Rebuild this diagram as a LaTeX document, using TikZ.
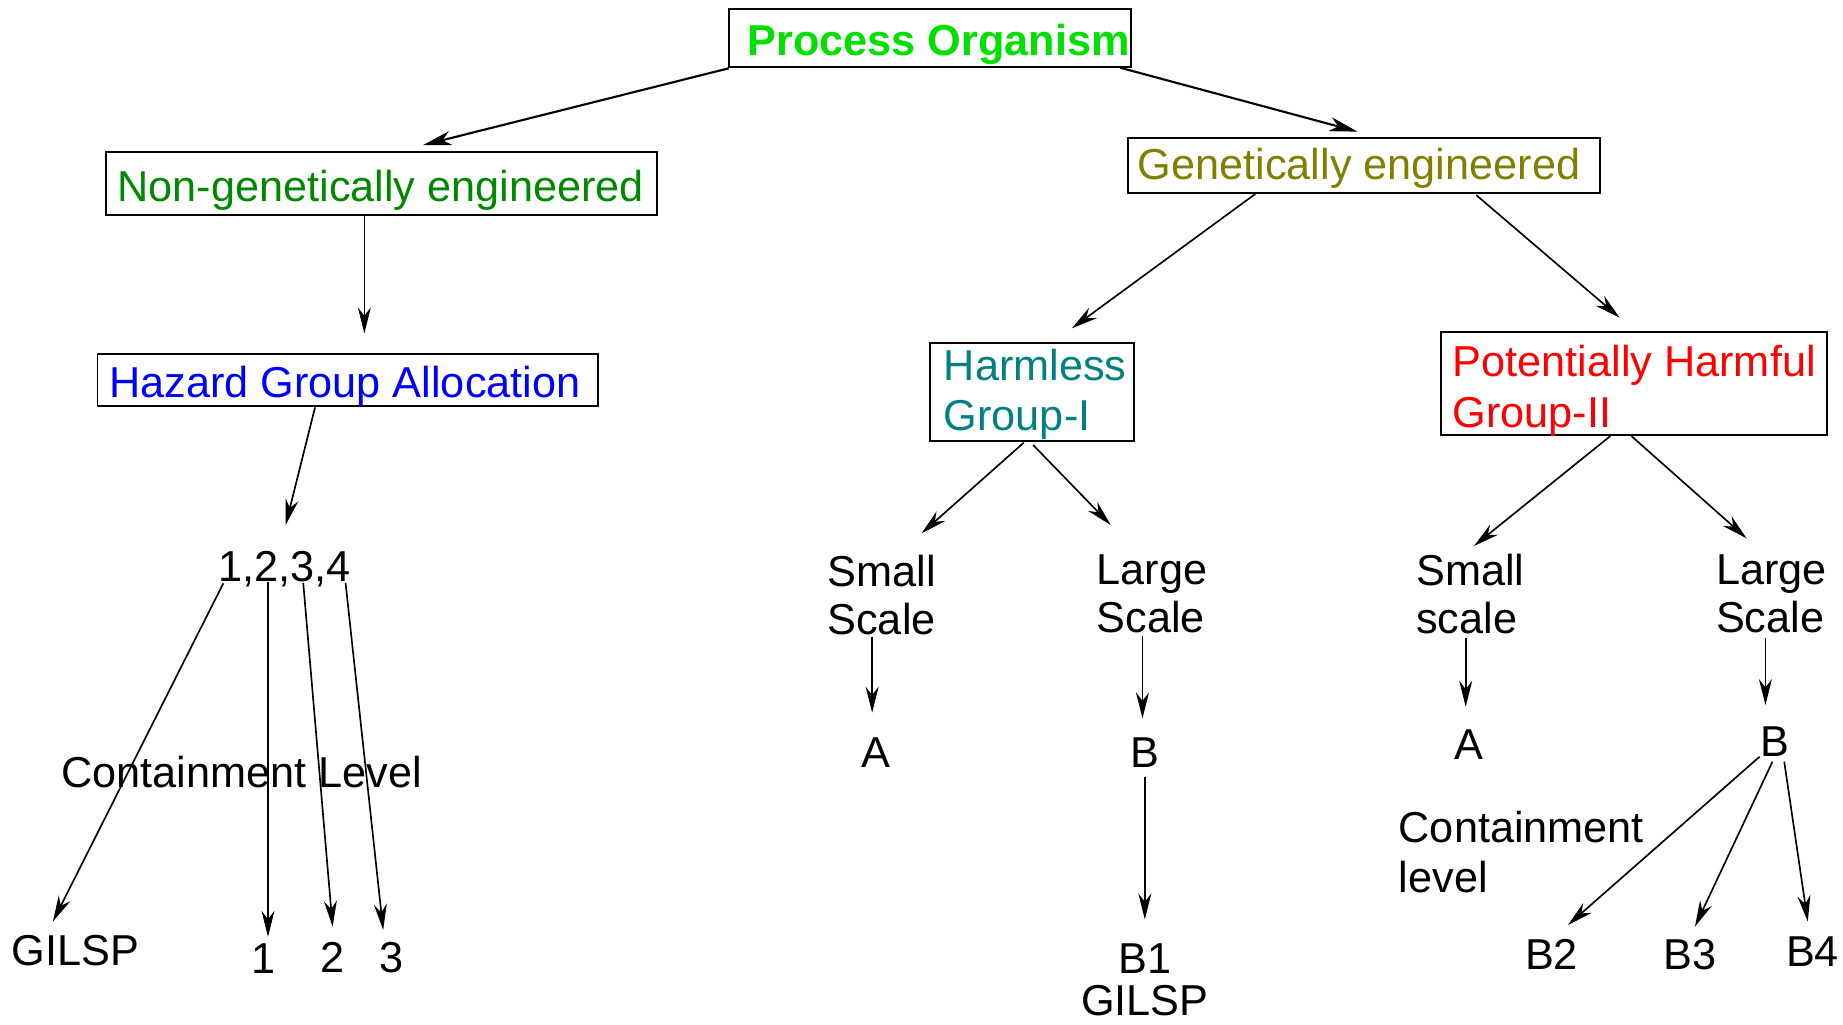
\documentclass[tikz,border=0pt]{standalone}
\usepackage{fontspec}
\setmainfont{Liberation Sans}
\usetikzlibrary{arrows.meta,calc}
\definecolor{cPO}{RGB}{0,224,0}
\definecolor{cNG}{RGB}{0,136,0}
\definecolor{cGE}{RGB}{128,128,0}
\definecolor{cHZ}{RGB}{0,0,255}
\definecolor{cHA}{RGB}{0,128,128}
\definecolor{cPH}{RGB}{255,0,0}
\newcommand\twoline[4]{{\renewcommand\arraystretch{#1}\begin{tabular}[t]{@{}#2@{}}#3\\#4\end{tabular}}}
\begin{document}
\begin{tikzpicture}[x=1pt,y=-1pt,
  every node/.style={font=\fontsize{36.8}{42}\selectfont, inner sep=0pt, outer sep=0pt},
  box/.style={draw, line width=1.6pt, rectangle},
  txt/.style={anchor=base west},
  ctr/.style={anchor=base},
  arr/.style={-{Stealth[length=22pt,width=11pt,inset=7pt]}, line width=1.4pt},
  arrb/.style={-{Stealth[length=24pt,width=12pt,inset=7pt]}, line width=1.8pt}]
\useasboundingbox (0,0) rectangle (1568,872);
% boxes
\node[box, minimum width=342pt, minimum height=48.8pt] (po) at (791,32.3) {};
\node[box, minimum width=469pt, minimum height=54pt] (ng) at (324.5,156) {};
\node[box, minimum width=401pt, minimum height=46.8pt] (ge) at (1160.5,141.1) {};
\node[box, minimum width=426pt, minimum height=44.4pt] (hz) at (296,323.2) {};
\node[box, minimum width=174pt, minimum height=83.5pt] (harm) at (878,333.25) {};
\node[box, minimum width=328pt, minimum height=87.7pt] (pot) at (1390,326.55) {};
% box texts
\node[txt, text=cPO, font=\fontsize{36.8}{42}\selectfont\bfseries] (tpo) at (636,46.8) {Process Organism};
\node[txt, text=cNG] (tng) at (100,171.6) {Non-genetically engineered};
\node[txt, text=cGE] (tge) at (968,153) {Genetically engineered};
\node[txt, text=cHZ] (thz) at (93,338) {Hazard Group Allocation};
\node[txt, text=cHA] (tha) at (803,324) {\twoline{1}{l}{Harmless}{Group-I}};
\node[txt, text=cPH] (tph) at (1236,320) {\twoline{1.038}{l}{Potentially Harmful}{Group-II}};
% lower texts
\node[txt] (nums) at (186,494.5) {1,2,3,4};
\node[txt] (cl1) at (52,670) {Containment Level};
\node[txt] (gilsp) at (10,821) {GILSP};
\node[ctr] (n1) at (224,828) {1};
\node[ctr] (n2) at (283,827) {2};
\node[ctr] (n3) at (333,827) {3};
\node[txt] (sl) at (704,499) {\twoline{0.97}{l}{Small}{Scale}};
\node[txt] (lm) at (933,497.5) {\twoline{0.97}{l}{Large}{Scale}};
\node[ctr] (al) at (745,653) {A};
\node[ctr] (bm) at (974,653) {B};
\node[ctr] (b1) at (974,828) {\twoline{0.833}{c}{B1}{GILSP}};
\node[txt] (sr) at (1205,498) {\twoline{0.97}{l}{Small}{scale}};
\node[txt] (lr) at (1460,497.5) {\twoline{0.97}{l}{Large}{Scale}};
\node[ctr] (ar) at (1250,646) {A};
\node[ctr] (br) at (1510,643.5) {B};
\node[txt] (cl2) at (1190,717) {\twoline{1.014}{l}{Containment}{level}};
\node[ctr] (b2) at (1320,825) {B2};
\node[ctr] (b3) at (1438,825) {B3};
\node[ctr] (b4) at (1542,822) {B4};
% top connectors
\draw[arrb] ($(po.south west)+(0,1.4)$) -- ($(ng.north)+(35.5,-5.6)$);
\draw[arrb] ($(po.south east)+(-9,0.9)$) -- ($(ge.north)+(-5.5,-5.7)$);
\draw[arr] ($(ng.south)+(-14.5,0.8)$) -- ($(hz.north)+(14,-17.4)$);
\draw[arr] ($(ge.south)+(-92.5,0.5)$) -- ($(harm.north)+(34,-12.2)$);
\draw[arr] ($(ge.south)+(95.5,1.5)$) -- ($(pot.north)+(-12,-12.4)$);
\draw[arr] ($(hz.south)+(-28,1.2)$) -- ($(nums.base west)+(57,-47.8)$);
\draw[arr] ($(harm.south)+(-7,1.6)$) -- ($(sl.base west)+(80,-45.2)$);
\draw[arr] ($(harm.south)+(1,3.6)$) -- ($(lm.base west)+(12,-50.8)$);
\draw[arr] ($(pot.south)+(-20,0.6)$) -- ($(sr.base west)+(49,-33.5)$);
\draw[arr] ($(pot.south)+(-2,0.6)$) -- ($(lr.base west)+(26,-39.5)$);
% left fan
\draw[arr] ($(nums.base west)+(4,1.8)$) -- ($(gilsp.base west)+(35,-37)$);
\draw[arr] ($(nums.base west)+(42,0.4)$) -- ($(n1.base)+(4,-31)$);
\draw[arr] ($(nums.base west)+(72,1.5)$) -- ($(n2.base)+(0,-38.6)$);
\draw[arr] ($(nums.base west)+(108,1.5)$) -- ($(n3.base)+(-7,-35.8)$);
% middle
\draw[arr] ($(sl.base west)+(38,42.7)$) -- ($(al.base)+(-3,-46.7)$);
\draw[arr] ($(lm.base west)+(39,43.5)$) -- ($(bm.base)+(-2,-41.8)$);
\draw[arr] ($(bm.base)+(0,7.8)$) -- ($(b1.base)+(0,-45.8)$);
% right
\draw[arr] ($(sr.base west)+(42,45)$) -- ($(ar.base)+(-3,-44.8)$);
\draw[arr] ($(lr.base west)+(42,45.5)$) -- ($(br.base)+(-8,-43.7)$);
\draw[arr] ($(br.base)+(-13,0.3)$) -- ($(b2.base)+(14,-38)$);
\draw[arr] ($(br.base)+(-2,4.5)$) -- ($(b3.base)+(4,-36.6)$);
\draw[arr] ($(br.base)+(8,4.5)$) -- ($(b4.base)+(-4,-38)$);
\end{tikzpicture}
\end{document}
